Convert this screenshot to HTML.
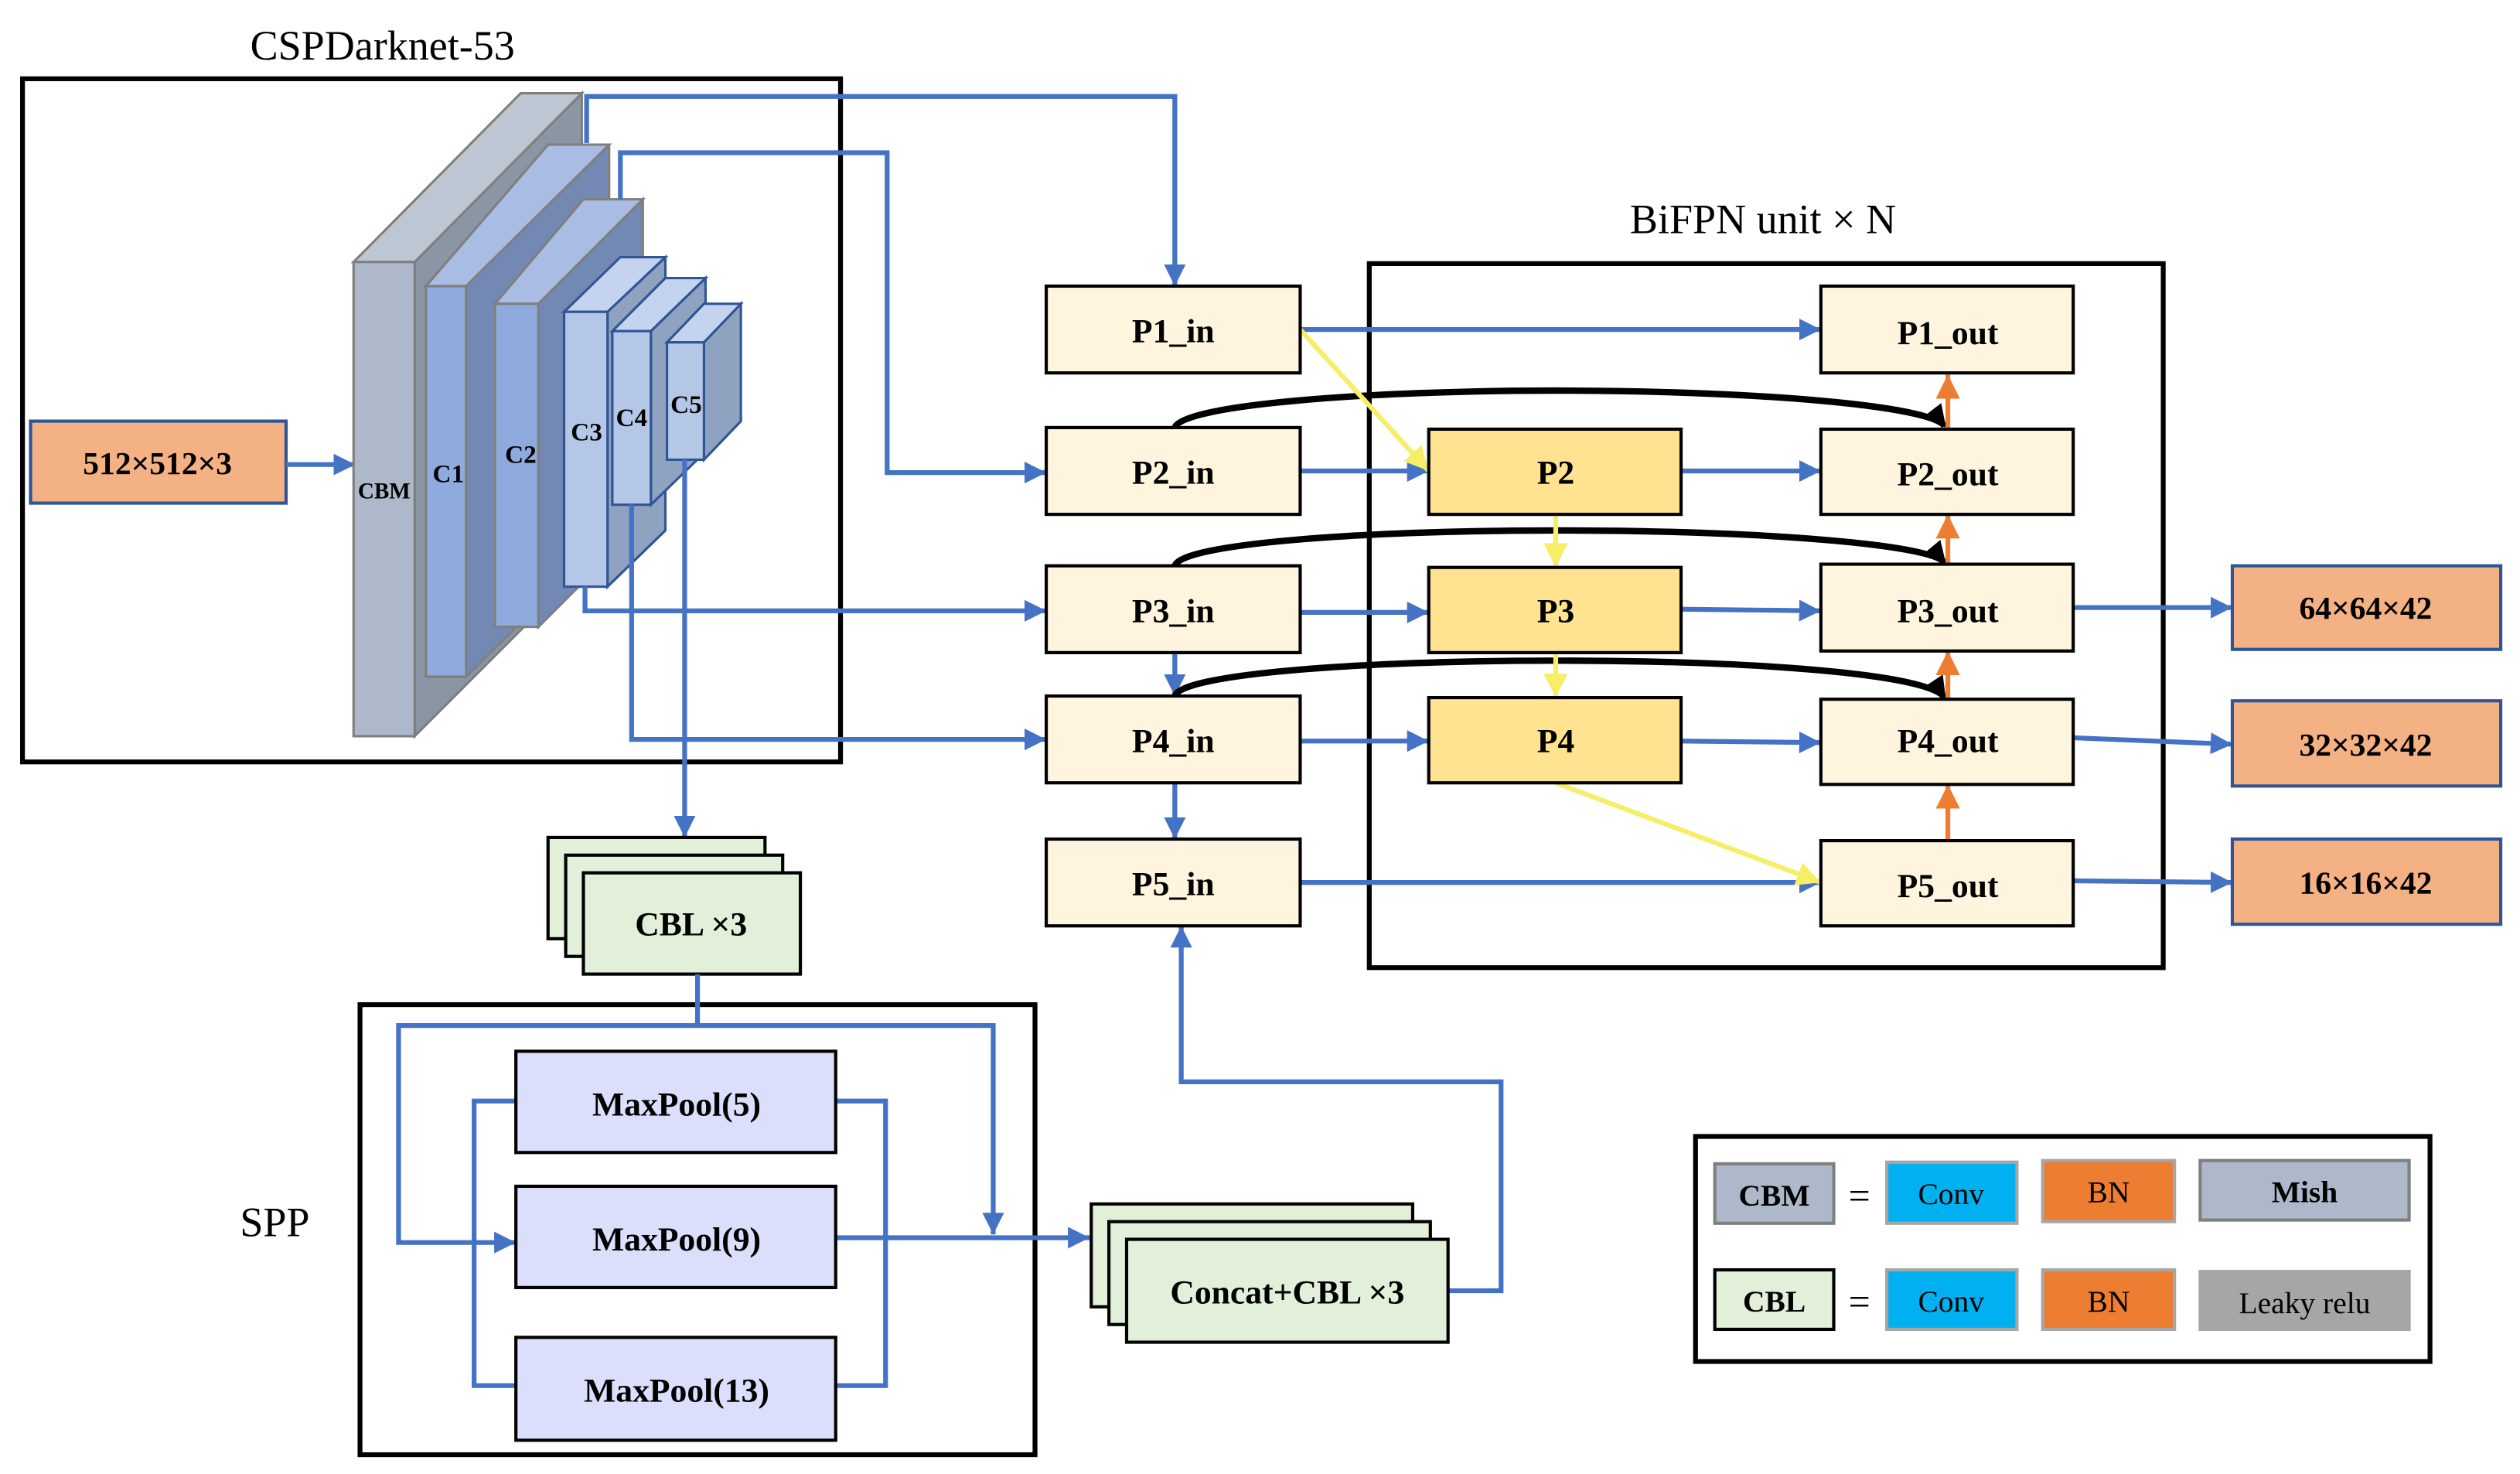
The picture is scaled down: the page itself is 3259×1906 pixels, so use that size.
<!DOCTYPE html>
<html><head><meta charset="utf-8"><style>html,body{margin:0;padding:0;background:#fff}svg{display:block}</style></head>
<body>
<svg xmlns="http://www.w3.org/2000/svg" width="3259" height="1906" viewBox="0 0 1568 917" preserveAspectRatio="none" font-family="'Liberation Serif', serif">
<defs>
<marker id="ab" viewBox="0 0 10 10" refX="10" refY="5" markerWidth="4.5" markerHeight="4.5" markerUnits="strokeWidth" orient="auto"><path d="M0,0L10,5L0,10Z" fill="#4472C4"/></marker>
<marker id="ay" viewBox="0 0 10 10" refX="10" refY="5" markerWidth="5" markerHeight="5" markerUnits="strokeWidth" orient="auto"><path d="M0,0L10,5L0,10Z" fill="#F5EE66"/></marker>
<marker id="ao" viewBox="0 0 10 10" refX="10" refY="5" markerWidth="5" markerHeight="5" markerUnits="strokeWidth" orient="auto"><path d="M0,0L10,5L0,10Z" fill="#ED7D31"/></marker>
<marker id="ak" viewBox="0 0 10 10" refX="9" refY="5" markerWidth="3.5" markerHeight="4" markerUnits="strokeWidth" orient="auto"><path d="M0,0L10,5L0,10Z" fill="#000"/></marker>
</defs>

<!-- titles -->
<text x="238" y="37" font-size="26" text-anchor="middle">CSPDarknet-53</text>
<text x="1097" y="145" font-size="26" text-anchor="middle">BiFPN unit × N</text>
<text x="171" y="769" font-size="26" text-anchor="middle">SPP</text>

<!-- CSPDarknet box -->
<rect x="14" y="49" width="509" height="425" fill="none" stroke="#000" stroke-width="3"/>

<!-- input -->
<rect x="19" y="262" width="159" height="51" fill="#F4B183" stroke="#2F5597" stroke-width="2"/>
<text x="98" y="295" font-size="20" font-weight="bold" text-anchor="middle">512×512×3</text>
<line x1="178" y1="289" x2="221" y2="289" stroke="#4472C4" stroke-width="3" marker-end="url(#ab)"/>

<!-- slabs -->
<g stroke="#7F7F7F" stroke-width="1.5">
<polygon points="258,163 362,58 362,354 258,458" fill="#8A96A3"/>
<polygon points="220,163 258,163 362,58 324,58" fill="#BDC7D3"/>
<rect x="220" y="163" width="38" height="295" fill="#ADB9CA"/>

<polygon points="290,178 366,90 379,90 379,333 290,421" fill="#7389B4"/>
<polygon points="265,178 290,178 379,90 341,90" fill="#A9BCE4"/>
<rect x="265" y="178" width="25" height="243" fill="#8FAADC"/>

<polygon points="335,189 400,124 400,325 335,390" fill="#7389B4"/>
<polygon points="308,189 335,189 400,124 363,124" fill="#A9BCE4"/>
<rect x="308" y="189" width="27" height="201" fill="#8FAADC"/>
</g>
<g stroke="#2F5597" stroke-width="1.5">
<polygon points="378,194 414,160 414,330 378,365" fill="#8FA3C0"/>
<polygon points="351,194 378,194 414,160 386,160" fill="#C5D4EE"/>
<rect x="351" y="194" width="27" height="171" fill="#B4C7E7"/>

<polygon points="405,206 439,173 439,281 405,314" fill="#8FA3C0"/>
<polygon points="381,206 405,206 439,173 414,173" fill="#C5D4EE"/>
<rect x="381" y="206" width="24" height="108" fill="#B4C7E7"/>

<polygon points="438,213 461,189 461,262 438,286" fill="#8FA3C0"/>
<polygon points="415,213 438,213 461,189 438,189" fill="#C5D4EE"/>
<rect x="415" y="213" width="23" height="73" fill="#B4C7E7"/>
</g>
<g font-weight="bold" text-anchor="middle">
<text x="239" y="310" font-size="14">CBM</text>
<text x="279" y="300" font-size="16">C1</text>
<text x="324" y="288" font-size="16">C2</text>
<text x="365" y="274" font-size="16">C3</text>
<text x="393" y="265" font-size="16">C4</text>
<text x="427" y="257" font-size="16">C5</text>
</g>

<!-- backbone connectors -->
<g fill="none" stroke="#4472C4" stroke-width="3">
<polyline points="365,89 365,60 731,60 731,178" marker-end="url(#ab)"/>
<polyline points="386,124 386,95 552,95 552,294 651,294" marker-end="url(#ab)"/>
<polyline points="364,365 364,380 651,380" marker-end="url(#ab)"/>
<polyline points="393,314 393,460 651,460" marker-end="url(#ab)"/>
<polyline points="426,286 426,521" marker-end="url(#ab)"/>
</g>

<!-- BiFPN box -->
<rect x="852" y="164" width="494" height="438" fill="none" stroke="#000" stroke-width="3"/>

<!-- blue flows -->
<g fill="none" stroke="#4472C4" stroke-width="3">
<line x1="809" y1="205" x2="1133" y2="205" marker-end="url(#ab)"/>
<line x1="809" y1="293" x2="889" y2="293" marker-end="url(#ab)"/>
<line x1="1046" y1="293" x2="1133" y2="293" marker-end="url(#ab)"/>
<line x1="809" y1="381" x2="889" y2="381" marker-end="url(#ab)"/>
<line x1="1046" y1="379" x2="1133" y2="380" marker-end="url(#ab)"/>
<line x1="809" y1="461" x2="889" y2="461" marker-end="url(#ab)"/>
<line x1="1046" y1="461" x2="1133" y2="462" marker-end="url(#ab)"/>
<line x1="809" y1="549" x2="1133" y2="549" marker-end="url(#ab)"/>
<line x1="1290" y1="378" x2="1389" y2="378" marker-end="url(#ab)"/>
<line x1="1290" y1="459" x2="1389" y2="463" marker-end="url(#ab)"/>
<line x1="1290" y1="548" x2="1389" y2="549" marker-end="url(#ab)"/>
<line x1="731" y1="406" x2="731" y2="433" marker-end="url(#ab)"/>
<line x1="731" y1="487" x2="731" y2="522" marker-end="url(#ab)"/>
<polyline points="901,803 934,803 934,673 735,673 735,576" marker-end="url(#ab)"/>
</g>

<!-- black curves -->
<g fill="none" stroke="#000" stroke-width="4">
<path d="M731,266 C735,252 850,243 968,243 C1090,243 1200,252 1210,265" marker-end="url(#ak)"/>
<path d="M731,352 C735,338 850,330 968,330 C1090,330 1200,338 1210,350" marker-end="url(#ak)"/>
<path d="M731,433 C735,419 850,411 968,411 C1090,411 1200,419 1210,434" marker-end="url(#ak)"/>
</g>

<!-- yellow -->
<g stroke="#F5EE66" stroke-width="3" fill="none">
<line x1="809" y1="205" x2="889" y2="293" marker-end="url(#ay)"/>
<line x1="968" y1="320" x2="968" y2="353" marker-end="url(#ay)"/>
<line x1="968" y1="406" x2="968" y2="434" marker-end="url(#ay)"/>
<line x1="968" y1="487" x2="1133" y2="549" marker-end="url(#ay)"/>
</g>

<!-- orange -->
<g stroke="#ED7D31" stroke-width="3" fill="none">
<line x1="1212" y1="267" x2="1212" y2="233" marker-end="url(#ao)"/>
<line x1="1212" y1="351" x2="1212" y2="320" marker-end="url(#ao)"/>
<line x1="1212" y1="441" x2="1212" y2="405" marker-end="url(#ao)"/>
<line x1="1212" y1="523" x2="1212" y2="488" marker-end="url(#ao)"/>
</g>

<!-- P boxes -->
<g stroke="#000" stroke-width="2" fill="#FFF5DF">
<rect x="651" y="178" width="158" height="54"/>
<rect x="651" y="266" width="158" height="54"/>
<rect x="651" y="352" width="158" height="54"/>
<rect x="651" y="433" width="158" height="54"/>
<rect x="651" y="522" width="158" height="54"/>
<rect x="1133" y="178" width="157" height="54"/>
<rect x="1133" y="267" width="157" height="53"/>
<rect x="1133" y="351" width="157" height="54"/>
<rect x="1133" y="435" width="157" height="53"/>
<rect x="1133" y="523" width="157" height="53"/>
<rect x="889" y="267" width="157" height="53" fill="#FFE390"/>
<rect x="889" y="353" width="157" height="53" fill="#FFE390"/>
<rect x="889" y="434" width="157" height="53" fill="#FFE390"/>
</g>
<g font-size="21" font-weight="bold" text-anchor="middle">
<text x="730" y="213">P1_in</text>
<text x="730" y="301">P2_in</text>
<text x="730" y="387">P3_in</text>
<text x="730" y="468">P4_in</text>
<text x="730" y="557">P5_in</text>
<text x="1212" y="214">P1_out</text>
<text x="1212" y="302">P2_out</text>
<text x="1212" y="387">P3_out</text>
<text x="1212" y="468">P4_out</text>
<text x="1212" y="558">P5_out</text>
<text x="968" y="301">P2</text>
<text x="968" y="387">P3</text>
<text x="968" y="468">P4</text>
</g>

<!-- outputs -->
<g fill="#F4B183" stroke="#2F5597" stroke-width="2">
<rect x="1389" y="352" width="167" height="52"/>
<rect x="1389" y="436" width="167" height="53"/>
<rect x="1389" y="522" width="167" height="53"/>
</g>
<g font-size="20" font-weight="bold" text-anchor="middle">
<text x="1472" y="385">64×64×42</text>
<text x="1472" y="470">32×32×42</text>
<text x="1472" y="556">16×16×42</text>
</g>

<!-- CBL stack -->
<g fill="#E2F0D9" stroke="#000" stroke-width="2">
<rect x="341" y="521" width="135" height="63"/>
<rect x="352" y="532" width="135" height="63"/>
<rect x="363" y="543" width="135" height="63"/>
</g>
<text x="430" y="582" font-size="21" font-weight="bold" text-anchor="middle">CBL ×3</text>

<!-- SPP -->
<rect x="224" y="625" width="420" height="280" fill="none" stroke="#000" stroke-width="3"/>
<g fill="none" stroke="#4472C4" stroke-width="3">
<line x1="434" y1="606" x2="434" y2="638"/>
<polyline points="434,638 248,638 248,773 321,773" marker-end="url(#ab)"/>
<polyline points="434,638 618,638 618,768" marker-end="url(#ab)"/>
<polyline points="321,685 295,685 295,862 321,862"/>
<polyline points="520,685 551,685 551,862 520,862"/>
<line x1="520" y1="770" x2="678" y2="770" marker-end="url(#ab)"/>
</g>
<g fill="#DCDFFB" stroke="#000" stroke-width="2">
<rect x="321" y="654" width="199" height="63"/>
<rect x="321" y="738" width="199" height="63"/>
<rect x="321" y="832" width="199" height="64"/>
</g>
<g font-size="21" font-weight="bold" text-anchor="middle">
<text x="421" y="694">MaxPool(5)</text>
<text x="421" y="778">MaxPool(9)</text>
<text x="421" y="872">MaxPool(13)</text>
</g>

<!-- Concat stack -->
<g fill="#E2F0D9" stroke="#000" stroke-width="2">
<rect x="679" y="749" width="200" height="64"/>
<rect x="690" y="760" width="200" height="64"/>
<rect x="701" y="771" width="200" height="64"/>
</g>
<text x="801" y="811" font-size="21" font-weight="bold" text-anchor="middle">Concat+CBL ×3</text>

<!-- legend -->
<rect x="1055" y="707" width="457" height="140" fill="none" stroke="#000" stroke-width="3"/>
<rect x="1067" y="724" width="74" height="37" fill="#ADB9CA" stroke="#7F7F7F" stroke-width="2"/>
<rect x="1067" y="790" width="74" height="37" fill="#E2F0D9" stroke="#000" stroke-width="2"/>
<g stroke="#A6A6A6" stroke-width="2">
<rect x="1174" y="723" width="81" height="38" fill="#00B0F0"/>
<rect x="1271" y="722" width="82" height="38" fill="#ED7D31"/>
<rect x="1174" y="790" width="81" height="37" fill="#00B0F0"/>
<rect x="1271" y="790" width="82" height="37" fill="#ED7D31"/>
</g>
<rect x="1369" y="722" width="130" height="37" fill="#ADB9CA" stroke="#7F7F7F" stroke-width="2"/>
<rect x="1368" y="790" width="132" height="38" fill="#A6A6A6"/>
<g font-size="19" text-anchor="middle">
<text x="1104" y="750" font-weight="bold">CBM</text>
<text x="1104" y="816" font-weight="bold">CBL</text>
<text x="1157" y="752" font-size="24">=</text>
<text x="1157" y="818" font-size="24">=</text>
<text x="1214" y="749">Conv</text>
<text x="1312" y="748">BN</text>
<text x="1434" y="748" font-weight="bold">Mish</text>
<text x="1214" y="816">Conv</text>
<text x="1312" y="816">BN</text>
<text x="1434" y="817">Leaky relu</text>
</g>
</svg>
</body></html>
